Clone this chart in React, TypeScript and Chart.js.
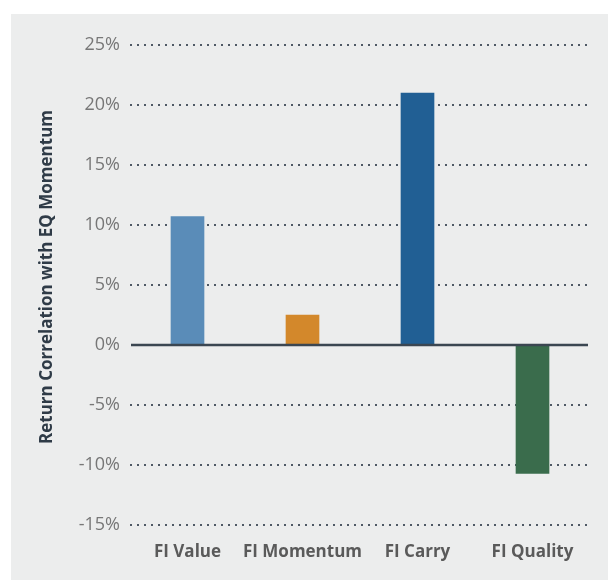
import React, { useEffect, useRef } from "react";
import { Chart, registerables } from "chart.js";

Chart.register(...registerables);

const categories = ["FI Value", "FI Momentum", "FI Carry", "FI Quality"];
const correlations = [10.7, 2.5, 21.0, -10.7];
const barColors = ["#5a8cb8", "#d3882b", "#215f94", "#3a6c4c"];
const yMin = -15;
const yMax = 25;
const yStep = 5;
const yTitle = "Return Correlation with EQ Momentum";

const FONT = "'Open Sans', 'DejaVu Sans', sans-serif";

export default function App() {
  const canvasRef = useRef<HTMLCanvasElement | null>(null);

  useEffect(() => {
    const canvas = canvasRef.current;
    if (!canvas) return;

    const zeroLinePlugin = {
      id: "zeroLine",
      afterDatasetsDraw(chart: any) {
        const { ctx, chartArea, scales } = chart;
        const y = scales.y.getPixelForValue(0);
        ctx.save();
        ctx.strokeStyle = "#3b4651";
        ctx.lineWidth = 2.5;
        ctx.beginPath();
        ctx.moveTo(chartArea.left + 1, y);
        ctx.lineTo(chartArea.right - 2, y);
        ctx.stroke();
        ctx.restore();
      },
    };

    const yTitlePlugin = {
      id: "yTitle",
      afterDraw(chart: any) {
        const { ctx } = chart;
        ctx.save();
        ctx.translate(47, 277);
        ctx.rotate(-Math.PI / 2);
        ctx.font = `bold 17px ${FONT}`;
        ctx.fillStyle = "#2f3b47";
        ctx.textAlign = "center";
        ctx.textBaseline = "middle";
        ctx.fillText(yTitle, 0, 0);
        ctx.restore();
      },
    };

    const chart = new Chart(canvas, {
      type: "bar",
      data: {
        labels: categories,
        datasets: [
          {
            data: correlations,
            backgroundColor: barColors,
            borderWidth: 0,
            barThickness: 33,
          },
        ],
      },
      options: {
        responsive: false,
        animation: false,
        layout: { padding: { top: 45, left: 0, right: 18, bottom: 0 } },
        plugins: {
          legend: { display: false },
          tooltip: { enabled: false },
          title: { display: false },
        },
        scales: {
          x: {
            grid: { display: false, drawTicks: false },
            border: { display: false },
            ticks: {
              padding: 17,
              color: "#5a5a5a",
              font: { family: FONT, size: 17, weight: "bold" },
              maxRotation: 0,
              autoSkip: false,
            },
            afterFit(scale: any) {
              scale.height = 55;
            },
          },
          y: {
            min: yMin,
            max: yMax,
            grid: {
              drawTicks: false,
              color: (ctx: any) =>
                ctx.tick && ctx.tick.value === 0 ? "rgba(0,0,0,0)" : "#4f5965",
              lineWidth: 2,
            },
            border: { display: false, dash: [2, 5] },
            ticks: {
              stepSize: yStep,
              padding: 10,
              color: "#777777",
              font: { family: FONT, size: 18 },
              callback: (v: any) => `${v}%`,
            },
            afterFit(scale: any) {
              scale.width = 130;
            },
          },
        },
      },
      plugins: [zeroLinePlugin, yTitlePlugin],
    });

    return () => chart.destroy();
  }, []);

  return (
    <div
      style={{
        position: "absolute",
        left: 0,
        top: 0,
        width: 608,
        height: 580,
        background: "#ffffff",
        overflow: "hidden",
      }}
    >
      <div
        style={{
          position: "absolute",
          left: 11,
          top: 14,
          right: 0,
          bottom: 0,
          background: "#eceded",
        }}
      />
      <canvas
        ref={canvasRef}
        width={608}
        height={580}
        style={{ position: "absolute", left: 0, top: 0, width: 608, height: 580 }}
      />
    </div>
  );
}
